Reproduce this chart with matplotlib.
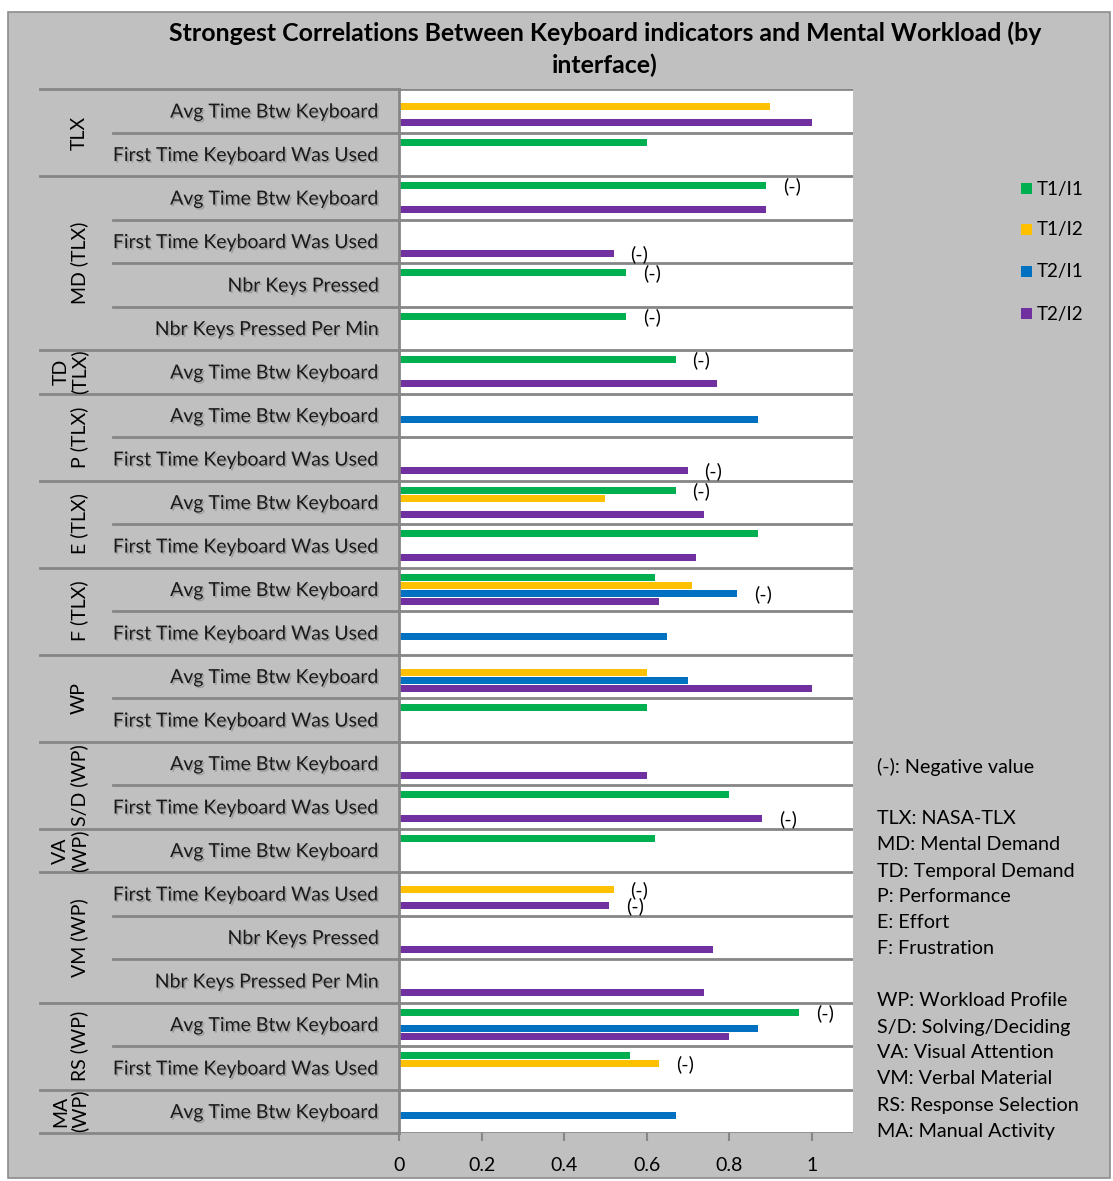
import matplotlib
matplotlib.use("Agg")
import matplotlib.pyplot as plt
import matplotlib.patheffects as pe
from matplotlib.patches import Rectangle
from matplotlib.lines import Line2D
from matplotlib.transforms import blended_transform_factory
import numpy as np

plt.rcParams['font.family'] = ['Lato', 'DejaVu Sans']

# ---------------- data ----------------
title = "Strongest Correlations Between Keyboard indicators and Mental Workload (by\ninterface)"
group_names = ['TLX', 'MD (TLX)', 'TD\n(TLX)', 'P (TLX)', 'E (TLX)', 'F (TLX)',
               'WP', 'S/D (WP)', 'VA\n(WP)', 'VM (WP)', 'RS (WP)', 'MA\n(WP)']
group_sizes = [2, 4, 1, 2, 2, 2, 2, 2, 1, 3, 2, 1]
indicators = [
    'Avg Time Btw Keyboard', 'First Time Keyboard Was Used',
    'Avg Time Btw Keyboard', 'First Time Keyboard Was Used', 'Nbr Keys Pressed', 'Nbr Keys Pressed Per Min',
    'Avg Time Btw Keyboard',
    'Avg Time Btw Keyboard', 'First Time Keyboard Was Used',
    'Avg Time Btw Keyboard', 'First Time Keyboard Was Used',
    'Avg Time Btw Keyboard', 'First Time Keyboard Was Used',
    'Avg Time Btw Keyboard', 'First Time Keyboard Was Used',
    'Avg Time Btw Keyboard', 'First Time Keyboard Was Used',
    'Avg Time Btw Keyboard',
    'First Time Keyboard Was Used', 'Nbr Keys Pressed', 'Nbr Keys Pressed Per Min',
    'Avg Time Btw Keyboard', 'First Time Keyboard Was Used',
    'Avg Time Btw Keyboard',
]
series_names = ['T1/I1', 'T1/I2', 'T2/I1', 'T2/I2']
series_colors = ['#00B050', '#FFC000', '#0070C0', '#7030A0']
N = None
t1_i1 = [N, 0.60, 0.89, N, 0.55, 0.55, 0.67, N, N, 0.67, 0.87, 0.62, N, N, 0.60, N, 0.80, 0.62, N, N, N, 0.97, 0.56, N]
t1_i2 = [0.90, N, N, N, N, N, N, N, N, 0.50, N, 0.71, N, 0.60, N, N, N, N, 0.52, N, N, N, 0.63, N]
t2_i1 = [N, N, N, N, N, N, N, 0.87, N, N, N, 0.82, 0.65, 0.70, N, N, N, N, N, N, N, 0.87, N, 0.67]
t2_i2 = [1.00, N, 0.89, 0.52, N, N, 0.77, N, 0.70, 0.74, 0.72, 0.63, N, 1.00, N, 0.60, 0.88, N, 0.51, 0.76, 0.74, 0.80, N, N]
# rows (0-based) where the correlation of each series is negative
neg_t1_i1 = [2, 4, 5, 6, 9, 21]
neg_t1_i2 = [18, 22]
neg_t2_i1 = [11]
neg_t2_i2 = [3, 8, 16, 18]
x_ticks = [0, 0.2, 0.4, 0.6, 0.8, 1]
x_tick_labels = ['0', '0.2', '0.4', '0.6', '0.8', '1']
notes = ["(-): Negative value", "", "TLX: NASA-TLX", "MD: Mental Demand", "TD: Temporal Demand",
         "P: Performance", "E: Effort", "F: Frustration", "", "WP: Workload Profile",
         "S/D: Solving/Deciding", "VA: Visual Attention", "VM: Verbal Material",
         "RS: Response Selection", "MA: Manual Activity"]

series_values = [t1_i1, t1_i2, t2_i1, t2_i2]
series_negs = [neg_t1_i1, neg_t1_i2, neg_t2_i1, neg_t2_i2]

# ---------------- figure ----------------
W, H = 1113, 1181
fig = plt.figure(figsize=(W / 100, H / 100), dpi=100, facecolor='white')
BG = '#C0C0C0'
LINE = '#868686'

def fx(px):
    return px / W

def fy(py):
    return 1 - py / H

fig.patches.append(Rectangle((fx(8), fy(1178)), fx(1110) - fx(8), fy(12) - fy(1178),
                             transform=fig.transFigure, facecolor=BG, edgecolor='#8C8C8C',
                             linewidth=1.2, zorder=-10))

L, R, T, B = 399, 853, 89, 1133
ax = fig.add_axes([fx(L), fy(B), fx(R) - fx(L), fy(T) - fy(B)])
ax.set_facecolor('white')
nrows = len(indicators)
ax.set_xlim(0, 1.1)
ax.set_ylim(nrows, 0)

step = 0.184
bh = 0.165
shadow = [pe.SimplePatchShadow(offset=(1.2, -1.2), shadow_rgbFace='#7a7a7a', alpha=0.5), pe.Normal()]
FS = 14

for k, (vals, color, negs) in enumerate(zip(series_values, series_colors, series_negs)):
    ys = [i + 0.5 + (k - 1.5) * step for i in range(nrows)]
    mask = [v is not None for v in vals]
    ax.barh([y for y, m in zip(ys, mask) if m], [v for v, m in zip(vals, mask) if m],
            height=bh, color=color, zorder=3, label=series_names[k])
    for r in negs:
        ax.text(vals[r] + 0.062, ys[r] + 0.02, '(-)', ha='center', va='center',
                fontsize=FS, color='black', zorder=4, clip_on=False)

# gridlines at row boundaries
for b in range(nrows + 1):
    ax.axhline(b, color=LINE, linewidth=2, zorder=2)

for s in ['top', 'right', 'bottom']:
    ax.spines[s].set_visible(False)
ax.spines['left'].set_color(LINE)
ax.spines['left'].set_linewidth(2)
ax.spines['left'].set_zorder(5)
ax.set_yticks([])
ax.set_xticks(x_ticks)
ax.set_xticklabels(x_tick_labels, fontsize=FS)
ax.tick_params(axis='x', length=6, width=1.5, color=LINE, pad=11)

# category axis (multi-level) on the left
trans = blended_transform_factory(ax.transAxes, ax.transData)
x_sub = (113 - L) / (R - L)
x_grp = (40 - L) / (R - L)
x_lab = (379 - L) / (R - L)
x_glab = (88 - L) / (R - L)

for i, lab in enumerate(indicators):
    ax.text(x_lab, i + 0.53, lab, transform=trans, ha='right', va='center',
            fontsize=FS, color='#1a1a1a', path_effects=shadow, clip_on=False)

boundaries = np.cumsum([0] + group_sizes)
for b in range(nrows + 1):
    xstart = x_grp if b in boundaries else x_sub
    ax.add_line(Line2D([xstart, 0], [b, b], transform=trans, color=LINE,
                       linewidth=2, clip_on=False, zorder=2))
for gi, g in enumerate(group_names):
    y0, y1 = boundaries[gi], boundaries[gi + 1]
    ax.text(x_glab, (y0 + y1) / 2, g, transform=trans, rotation=90, ha='right', va='center',
            fontsize=FS, color='black', clip_on=False, linespacing=1.05,
            multialignment='center')

# title
fig.text(fx(605), fy(49.5), title, ha='center', va='center', fontsize=17.9,
         fontweight='bold', linespacing=1.45)

# legend
leg_y = [189, 230, 272, 314]
for name, color, py in zip(series_names, series_colors, leg_y):
    fig.patches.append(Rectangle((fx(1021), fy(py + 5)), fx(11), 11 / H,
                                 transform=fig.transFigure, facecolor=color, edgecolor='none'))
    fig.text(fx(1037), fy(py), name, ha='left', va='center', fontsize=13.5)

# notes
for j, line in enumerate(notes):
    if line:
        fig.text(fx(877), fy(767 + 26 * j), line, ha='left', va='center', fontsize=14.2)

fig.savefig('out.png', dpi=100, facecolor='white')
